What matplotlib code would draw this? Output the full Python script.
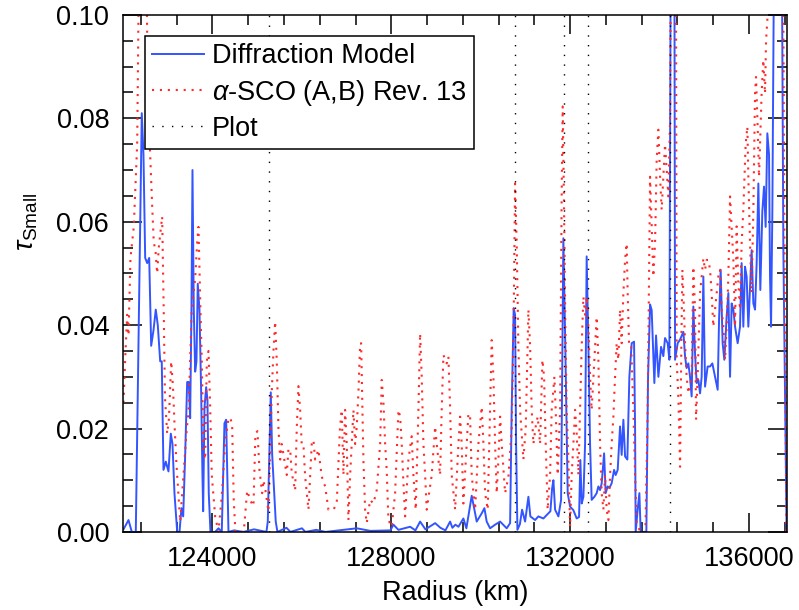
import numpy as np
import matplotlib
matplotlib.use('Agg')
import matplotlib.pyplot as plt
from matplotlib.ticker import MultipleLocator, FormatStrFormatter

plt.rcParams['font.family'] = ['Liberation Sans', 'DejaVu Sans']
plt.rcParams['mathtext.fontset'] = 'custom'
plt.rcParams['mathtext.rm'] = 'Liberation Sans'
plt.rcParams['mathtext.it'] = 'Liberation Sans:italic'

# diffraction model (radius in km, optical depth)
model_r = [122010, 122122, 122196, 122285, 122419, 122457, 122495, 122540, 122585, 122629,
           122681, 122732, 122777, 122831, 122866, 122904, 122956, 123016, 123068, 123106,
           123150, 123211, 123262, 123307, 123345, 123390, 123434, 123470, 123501, 123530,
           123553, 123582, 123613, 123642, 123671, 123709, 123747, 123776, 123792, 123821,
           123859, 123888, 123917, 123955, 124060, 124134, 124208, 124268, 124306, 124358,
           124481, 124693, 124930, 125207, 125237, 125304, 125335, 125415, 125453, 125655,
           125744, 126001, 126079, 126319, 126527, 127227, 127533, 127980, 128047, 128159,
           128421, 128539, 128644, 128763, 128980, 129098, 129210, 129315, 129366, 129433,
           129501, 129612, 129679, 129798, 129858, 129910, 130022, 130082, 130133, 130209,
           130321, 130433, 130581, 130657, 130692, 130737, 130768, 130791, 130820, 130876,
           130925, 130992, 131066, 131110, 131216, 131289, 131401, 131513, 131558, 131596,
           131625, 131663, 131737, 131797, 131848, 131893, 131945, 131998, 132072, 132146,
           132199, 132228, 132258, 132296, 132334, 132369, 132407, 132445, 132481, 132542,
           132593, 132631, 132669, 132705, 132759, 132794, 132839, 132877, 132928, 132982,
           133018, 133063, 133116, 133152, 133190, 133228, 133279, 133324, 133376, 133429,
           133452, 133465, 133510, 133548, 133577, 133704, 133742, 133787, 133823, 133883,
           133921, 133973, 134033, 134084, 134122, 134181, 134219, 134252, 134330, 134346,
           134404, 134458, 134532, 134570, 134605, 134643, 134681, 134717, 134755, 134793,
           134829, 134867, 134905, 134941, 134979, 135017, 135075, 135129, 135180, 135240,
           135299, 135330, 135366, 135410, 135448, 135500, 135538, 135576, 135612, 135650,
           135688, 135746, 135799, 135835, 135873, 135911, 135947, 135985, 136023, 136059,
           136097, 136135, 136171, 136209, 136253, 136298, 136336, 136372, 136410, 136448,
           136470, 136493, 136522, 136566, 136730, 136768, 136841]
model_tau = [0.0005, 0.0023, 0.0, 0.0, 0.081, 0.073, 0.053, 0.052, 0.053, 0.036,
             0.039, 0.043, 0.040, 0.033, 0.033, 0.012, 0.0136, 0.0117, 0.019, 0.017,
             0.0075, 0.0, 0.0, 0.0046, 0.003, 0.015, 0.029, 0.029, 0.022, 0.043,
             0.070, 0.043, 0.031, 0.033, 0.048, 0.043, 0.027, 0.011, 0.004, 0.024,
             0.028, 0.0255, 0.0075, 0.0, 0.0, 0.0007, 0.0, 0.021, 0.0217, 0.0,
             0.0003, 0.0, 0.0005, 0.0, 0.002, 0.027, 0.015, 0.002, 0.0, 0.0008,
             0.0, 0.0007, 0.0, 0.0004, 0.0, 0.0007, 0.0002, 0.0003, 0.0014, 0.0004,
             0.001, 0.0003, 0.002, 0.0005, 0.0017, 0.0008, 0.0003, 0.002, 0.0008, 0.0014,
             0.001, 0.0026, 0.0007, 0.007, 0.0043, 0.002, 0.0036, 0.0046, 0.002, 0.0007,
             0.0014, 0.002, 0.0007, 0.0017, 0.0236, 0.0433, 0.042, 0.017, 0.0004, 0.0015,
             0.0043, 0.002, 0.0068, 0.003, 0.0023, 0.003, 0.0026, 0.0036, 0.004, 0.0084,
             0.010, 0.0043, 0.003, 0.0062, 0.0568, 0.035, 0.0075, 0.0049, 0.0042, 0.0026,
             0.0029, 0.0139, 0.0055, 0.0068, 0.0171, 0.0533, 0.0365, 0.017, 0.0062, 0.0068,
             0.0075, 0.0088, 0.0081, 0.0094, 0.0152, 0.0075, 0.0088, 0.0085, 0.0094, 0.012,
             0.011, 0.012, 0.0204, 0.0149, 0.0217, 0.0146, 0.014, 0.030, 0.0365, 0.0368,
             0.020, 0.0, 0.0043, 0.0075, 0.0, 0.0, 0.030, 0.044, 0.0429, 0.0288,
             0.038, 0.030, 0.0358, 0.034, 0.0375, 0.0365, 0.0333, 0.12, 0.12, 0.0333,
             0.0365, 0.0372, 0.0387, 0.0339, 0.0317, 0.0326, 0.030, 0.0262, 0.0436, 0.0345,
             0.0288, 0.0294, 0.0268, 0.030, 0.0494, 0.0281, 0.032, 0.032, 0.0326, 0.030,
             0.0275, 0.041, 0.0507, 0.0365, 0.0333, 0.0417, 0.0462, 0.030, 0.0442, 0.043,
             0.0397, 0.0365, 0.0397, 0.052, 0.0397, 0.0513, 0.0494, 0.0397, 0.0475, 0.0545,
             0.0442, 0.043, 0.052, 0.0674, 0.0468, 0.062, 0.0668, 0.059, 0.0771, 0.073,
             0.0494, 0.0397, 0.062, 0.12, 0.12, 0.055, 0.0]

# alpha-SCO occultation, Rev. 13
sco_r = [122010, 122055, 122093, 122122, 122166, 122240, 122316, 122345, 122368, 122502,
         122558, 122602, 122652, 122687, 122725, 122763, 122799, 122837, 122875, 122911,
         122938, 122987, 123027, 123077, 123117, 123150, 123195, 123240, 123278, 123352,
         123425, 123463, 123501, 123537, 123613, 123658, 123687, 123725, 123761, 123799,
         123837, 123873, 123911, 123949, 123984, 124060, 124134, 124208, 124284, 124358,
         124402, 124440, 124476, 124514, 124700, 124776, 124850, 124917, 124961, 125006,
         125051, 125111, 125140, 125185, 125252, 125326, 125364, 125402, 125438, 125476,
         125514, 125550, 125588, 125661, 125699, 125737, 125773, 125849, 125885, 125923,
         125961, 125997, 126035, 126073, 126147, 126220, 126258, 126296, 126370, 126444,
         126520, 126594, 126706, 126779, 126851, 126891, 126929, 126967, 127003, 127041,
         127079, 127115, 127153, 127191, 127227, 127265, 127303, 127325, 127354, 127376,
         127414, 127450, 127526, 127600, 127674, 127750, 127786, 127824, 127862, 127897,
         127935, 128009, 128085, 128159, 128197, 128233, 128271, 128309, 128383, 128456,
         128494, 128546, 128606, 128644, 128680, 128718, 128756, 128792, 128904, 128980,
         129015, 129091, 129127, 129165, 129239, 129277, 129315, 129351, 129427, 129501,
         129539, 129574, 129612, 129686, 129724, 129762, 129798, 129874, 129948, 130022,
         130060, 130098, 130156, 130209, 130245, 130283, 130321, 130357, 130395, 130433,
         130469, 130545, 130619, 130692, 130730, 130753, 130768, 130804, 130842, 130880,
         130954, 131006, 131066, 131104, 131140, 131178, 131229, 131274, 131327, 131379,
         131417, 131453, 131497, 131551, 131587, 131647, 131676, 131721, 131775, 131810,
         131833, 131860, 131893, 131922, 131960, 131998, 132034, 132072, 132110, 132146,
         132184, 132222, 132258, 132296, 132334, 132369, 132407, 132445, 132481, 132557,
         132593, 132631, 132669, 132705, 132743, 132781, 132817, 132855, 132893, 132928,
         132966, 133004, 133040, 133078, 133116, 133152, 133190, 133228, 133264, 133286,
         133317, 133362, 133414, 133452, 133487, 133570, 133682, 133727, 133749, 133787,
         133823, 133861, 133899, 133935, 133973, 134011, 134046, 134084, 134122, 134158,
         134196, 134234, 134257, 134364, 134382, 134420, 134458, 134487, 134509, 134532,
         134570, 134605, 134643, 134717, 134755, 134793, 134816, 134851, 134905, 134941,
         134979, 135017, 135053, 135091, 135129, 135164, 135202, 135240, 135276, 135314,
         135352, 135388, 135426, 135464, 135500, 135538, 135576, 135612, 135650, 135688,
         135723, 135761, 135799, 135835, 135873, 135925, 135963, 135985, 136023, 136059,
         136097, 136135, 136157, 136193, 136224, 136247, 136282, 136320, 136358, 136381,
         136410, 136432, 136757, 136790, 136835]
sco_tau = [0.025, 0.035, 0.042, 0.038, 0.053, 0.059, 0.075, 0.10, 0.12, 0.12,
           0.085, 0.074, 0.063, 0.056, 0.0545, 0.05, 0.055, 0.058, 0.061, 0.042,
           0.026, 0.019, 0.022, 0.033, 0.028, 0.021, 0.013, 0.007, 0.002, 0.011,
           0.02, 0.023, 0.033, 0.043, 0.049, 0.056, 0.059, 0.045, 0.033, 0.016,
           0.014, 0.033, 0.035, 0.024, 0.011, 0.003, 0.0, 0.007, 0.017, 0.022,
           0.022, 0.0207, 0.006, 0.0, 0.0, 0.008, 0.006, 0.005, 0.019, 0.0195,
           0.012, 0.0075, 0.01, 0.008, 0.004, 0.027, 0.035, 0.0407, 0.033, 0.020,
           0.014, 0.017, 0.015, 0.011, 0.016, 0.016, 0.0114, 0.008, 0.02, 0.0282,
           0.0236, 0.0168, 0.0168, 0.0107, 0.0043, 0.017, 0.0178, 0.014, 0.0159, 0.0107,
           0.0088, 0.0043, 0.0043, 0.0055, 0.020, 0.0236, 0.011, 0.0236, 0.017, 0.0023,
           0.011, 0.017, 0.0236, 0.017, 0.0204, 0.027, 0.0365, 0.0365, 0.0236, 0.0139,
           0.0043, 0.0017, 0.0062, 0.0055, 0.0081, 0.017, 0.0294, 0.025, 0.017, 0.0119,
           0.0023, 0.001, 0.0075, 0.0236, 0.0223, 0.017, 0.0094, 0.003, 0.014, 0.0185,
           0.011, 0.0043, 0.0236, 0.0384, 0.030, 0.017, 0.011, 0.0043, 0.011, 0.0204,
           0.017, 0.011, 0.0236, 0.0342, 0.0326, 0.0339, 0.024, 0.011, 0.0043, 0.017,
           0.0223, 0.017, 0.0055, 0.017, 0.0229, 0.0223, 0.011, 0.0043, 0.017, 0.0242,
           0.017, 0.0075, 0.0043, 0.0236, 0.0371, 0.030, 0.017, 0.0075, 0.014, 0.0223,
           0.017, 0.0075, 0.0107, 0.020, 0.036, 0.056, 0.0674, 0.056, 0.036, 0.0236,
           0.014, 0.020, 0.043, 0.036, 0.0236, 0.017, 0.0204, 0.0223, 0.017, 0.0333,
           0.030, 0.017, 0.0043, 0.011, 0.0236, 0.030, 0.0236, 0.011, 0.0236, 0.065,
           0.0823, 0.065, 0.040, 0.0236, 0.014, 0.001, 0.011, 0.017, 0.0236, 0.019,
           0.011, 0.0236, 0.036, 0.0455, 0.042, 0.0455, 0.040, 0.030, 0.0236, 0.036,
           0.0416, 0.0333, 0.017, 0.0075, 0.0043, 0.011, 0.0043, 0.0023, 0.011, 0.017,
           0.0222, 0.030, 0.0365, 0.0333, 0.0430, 0.0365, 0.0462, 0.0526, 0.0558, 0.0462,
           0.0365, 0.0365, 0.0236, 0.011, 0.0017, 0.0, 0.0, 0.02, 0.0365, 0.0687,
           0.0591, 0.0494, 0.056, 0.072, 0.0778, 0.0687, 0.0623, 0.0687, 0.075, 0.0700,
           0.0649, 0.08, 0.12, 0.12, 0.0333, 0.026, 0.0126, 0.0365, 0.0507, 0.0462,
           0.0365, 0.0300, 0.0268, 0.030, 0.0513, 0.0430, 0.0217, 0.030, 0.0462, 0.0494,
           0.0529, 0.0507, 0.0526, 0.0526, 0.0507, 0.0462, 0.0397, 0.0430, 0.0462, 0.0494,
           0.0507, 0.0430, 0.0397, 0.0333, 0.0397, 0.0494, 0.0649, 0.0591, 0.0526, 0.0397,
           0.0591, 0.0481, 0.0430, 0.0558, 0.0623, 0.075, 0.0784, 0.0687, 0.0558, 0.0462,
           0.0623, 0.0848, 0.088, 0.0784, 0.0687, 0.0752, 0.0848, 0.0913, 0.0848, 0.095,
           0.099, 0.12, 0.12, 0.06, 0.0]

# radii marked by the dotted "Plot" lines
plot_r = [125259, 130759, 131855, 132392, 134226]

fig = plt.figure(figsize=(7.99, 6.10), dpi=100)
ax = fig.add_axes([0.154, 0.128, 0.831, 0.8475])

ax.plot(model_r, model_tau, color='#3355ff', lw=1.4, label='Diffraction Model')
ax.plot(sco_r, sco_tau, color='#ff2a2a', lw=1.5, linestyle=(0, (1, 2.8)),
        label=r'$\alpha$-SCO (A,B) Rev. 13')
for i, r in enumerate(plot_r):
    ax.axvline(r, color='black', lw=1.0, linestyle=(0, (1, 6)),
               label='Plot' if i == 0 else None)

ax.set_xlim(122000, 136850)
ax.set_ylim(0, 0.1)
ax.xaxis.set_major_locator(MultipleLocator(4000))
ax.xaxis.set_minor_locator(MultipleLocator(800))
ax.yaxis.set_major_locator(MultipleLocator(0.02))
ax.yaxis.set_minor_locator(MultipleLocator(0.005))
ax.yaxis.set_major_formatter(FormatStrFormatter('%.2f'))

ax.tick_params(which='both', direction='in', top=True, right=True, width=1.1,
               labelsize=19.5, pad=10)
ax.tick_params(which='major', length=13.5)
ax.tick_params(which='minor', length=7)
for s in ax.spines.values():
    s.set_linewidth(1.1)

ax.set_xlabel('Radius (km)', fontsize=19.5, labelpad=6)
ax.set_ylabel(r'$\tau_{\mathrm{Small}}$', fontsize=19.5)
ax.yaxis.set_label_coords(-0.125, 0.6)

leg = ax.legend(loc='upper left', bbox_to_anchor=(0.033, 0.959), borderaxespad=0,
                fontsize=19.5, handlelength=1.9, handletextpad=0.3, borderpad=0.27,
                labelspacing=0.3, fancybox=False, framealpha=1)
leg.get_frame().set_edgecolor('black')
leg.get_frame().set_linewidth(1.1)

fig.savefig('out.png', dpi=100)
